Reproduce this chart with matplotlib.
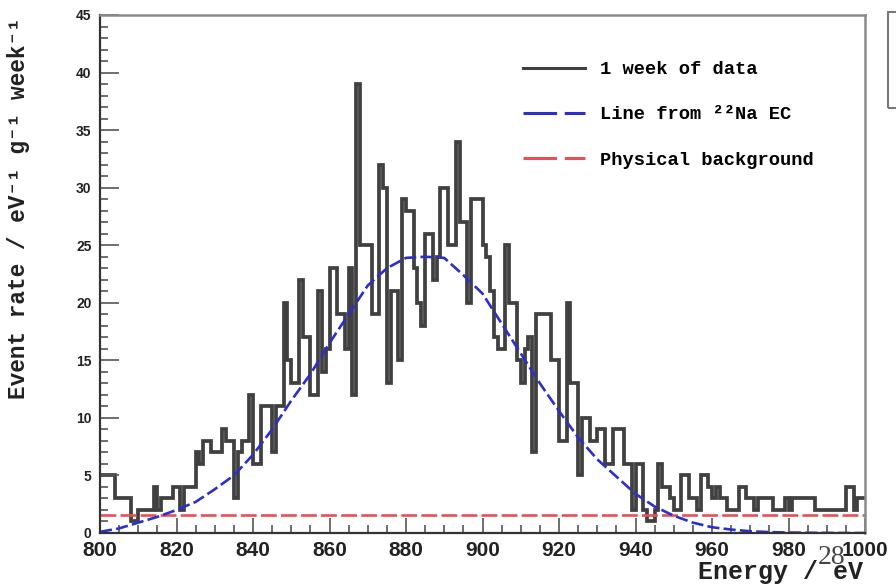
import numpy as np
import matplotlib.pyplot as plt
from matplotlib.lines import Line2D
from matplotlib.patches import Rectangle

# measured spectrum, 1 eV bins from 800 to 1000 eV
bin_lo = 800
bin_width = 1
rate = [
    5, 5, 5, 5, 3, 3, 3, 3, 1, 1,            # 800
    2, 2, 2, 2, 4, 2, 3, 3, 3, 4,            # 810
    4, 2, 4, 4, 4, 7, 6, 8, 8, 7,            # 820
    7, 7, 9, 8, 8, 3, 7, 8, 8, 12,           # 830
    6, 6, 11, 11, 11, 7, 11, 11, 20, 15,     # 840
    13, 13, 22, 17, 17, 12, 12, 21, 14, 16,  # 850
    23, 23, 19, 19, 16, 23, 12, 39, 25, 25,  # 860
    25, 19, 19, 32, 30, 13, 21, 21, 15, 29,  # 870
    28, 28, 23, 20, 18, 26, 26, 22, 24, 30,  # 880
    30, 25, 25, 34, 27, 27, 20, 29, 29, 29,  # 890
    25, 24, 21, 17, 16, 16, 25, 20, 20, 15,  # 900
    13, 16, 17, 7, 19, 19, 19, 19, 15, 15,   # 910
    8, 8, 20, 13, 13, 5, 10, 10, 8, 8,       # 920
    9, 9, 6, 6, 9, 9, 9, 6, 6, 2,            # 930
    6, 6, 2, 1, 1, 2, 6, 4, 4, 3,            # 940
    2, 2, 5, 5, 3, 3, 2, 5, 5, 4,            # 950
    3, 4, 3, 3, 2, 2, 2, 4, 4, 3,            # 960
    3, 2, 3, 3, 3, 3, 2, 2, 2, 3,            # 970
    2, 3, 3, 3, 3, 3, 3, 2, 2, 2,            # 980
    2, 2, 2, 2, 2, 4, 4, 2, 3, 3,            # 990
]

# 22Na EC line shape, sampled every 5 eV
line_e = [800, 805, 810, 815, 820, 825, 830, 835, 840, 845, 850, 855, 860,
          865, 870, 875, 880, 885, 890, 895, 900, 905, 910, 915, 920, 925,
          930, 935, 940, 945, 950, 955, 960, 965, 970, 975, 980, 985, 990,
          995, 1000]
line_rate = [0.1, 0.4, 0.9, 1.4, 2.0, 2.7, 3.8, 5.0, 6.8, 9.0, 11.5, 13.8,
             16.5, 19.0, 21.5, 23.0, 23.9, 24.0, 23.9, 22.4, 20.8, 18.2, 15.6,
             13.0, 10.6, 8.3, 6.4, 4.9, 3.4, 2.3, 1.5, 0.9, 0.5, 0.3, 0.15,
             0.08, 0.04, 0.02, 0.01, 0.0, 0.0]

background = 1.6

mono = ["Liberation Mono", "DejaVu Sans Mono"]
sans = ["Liberation Sans", "DejaVu Sans"]
hist_col = "#404040"
blue = "#2e2ec8"
red = "#e5505a"

fig = plt.figure(figsize=(8.96, 5.87), dpi=100)
ax = fig.add_axes([100 / 896, 1 - 533 / 587, 765 / 896, 518 / 587])

edges = bin_lo + bin_width * np.arange(len(rate) + 1)
ax.stairs(rate, edges, color=hist_col, lw=2.7, baseline=None)
ax.plot([800, 1000], [background, background], color=red, lw=1.9,
        dashes=(6.0, 1.6))
ax.plot(line_e, line_rate, color=blue, lw=1.9, dashes=(4.6, 1.6))

ax.set_xlim(800, 1000)
ax.set_ylim(0, 45)
ax.set_xticks(np.arange(800, 1001, 20))
ax.set_xticks(np.arange(800, 1001, 5), minor=True)
ax.set_yticks(np.arange(0, 46, 5))
ax.set_yticks(np.arange(0, 46, 1), minor=True)
ax.tick_params(axis="both", which="both", direction="in", color="#555555",
               width=1.2)
ax.tick_params(axis="x", which="major", length=11, pad=6)
ax.tick_params(axis="x", which="minor", length=5.5)
ax.tick_params(axis="y", which="major", length=14, pad=6)
ax.tick_params(axis="y", which="minor", length=6)
for lab in ax.get_xticklabels():
    lab.set_fontfamily(sans)
    lab.set_fontweight("bold")
    lab.set_fontsize(15)
    lab.set_color("#222222")
for lab in ax.get_yticklabels():
    lab.set_fontfamily(sans)
    lab.set_fontweight("bold")
    lab.set_fontsize(10)
    lab.set_color("#222222")

for side in ("left", "bottom"):
    ax.spines[side].set_color("#333333")
    ax.spines[side].set_linewidth(1.6)
for side in ("top", "right"):
    ax.spines[side].set_color("#8a8a8a")
    ax.spines[side].set_linewidth(1.8)

fig.text(0.021, 0.97, "Event rate / eV⁻¹ g⁻¹ week⁻¹", rotation=90,
         ha="center", va="top", family=mono, weight="bold", fontsize=16.4,
         color="#222222")
fig.text(863 / 896, 0.026, "Energy / eV", ha="right", va="center",
         family=mono, weight="bold", fontsize=18, color="#222222")

handles = [
    Line2D([], [], color=hist_col, lw=2.2),
    Line2D([], [], color=blue, lw=2.2, dashes=(11, 2.5)),
    Line2D([], [], color=red, lw=2.2, dashes=(11, 2.5)),
]
labels = ["1 week of data", "Line from ²²Na EC", "Physical background"]
ax.legend(handles, labels, loc="upper left", bbox_to_anchor=(0.553, 0.911),
          frameon=False, borderpad=0, borderaxespad=0, handlelength=3.3,
          handletextpad=0.8, labelspacing=1.5,
          prop={"family": mono, "weight": "bold", "size": 13.5})

# neighbouring panel box cut at the right edge
fig.patches.append(Rectangle((888 / 896, 1 - 108 / 587), 0.05, 96 / 587,
                             transform=fig.transFigure, fill=False,
                             edgecolor="#777777", lw=1.5))

fig.text(832 / 896, 1 - 557 / 587, "28", ha="center", va="center",
         family=["Liberation Serif", "DejaVu Serif"], fontsize=20,
         color="#444444")

fig.savefig("out.png", dpi=100)
